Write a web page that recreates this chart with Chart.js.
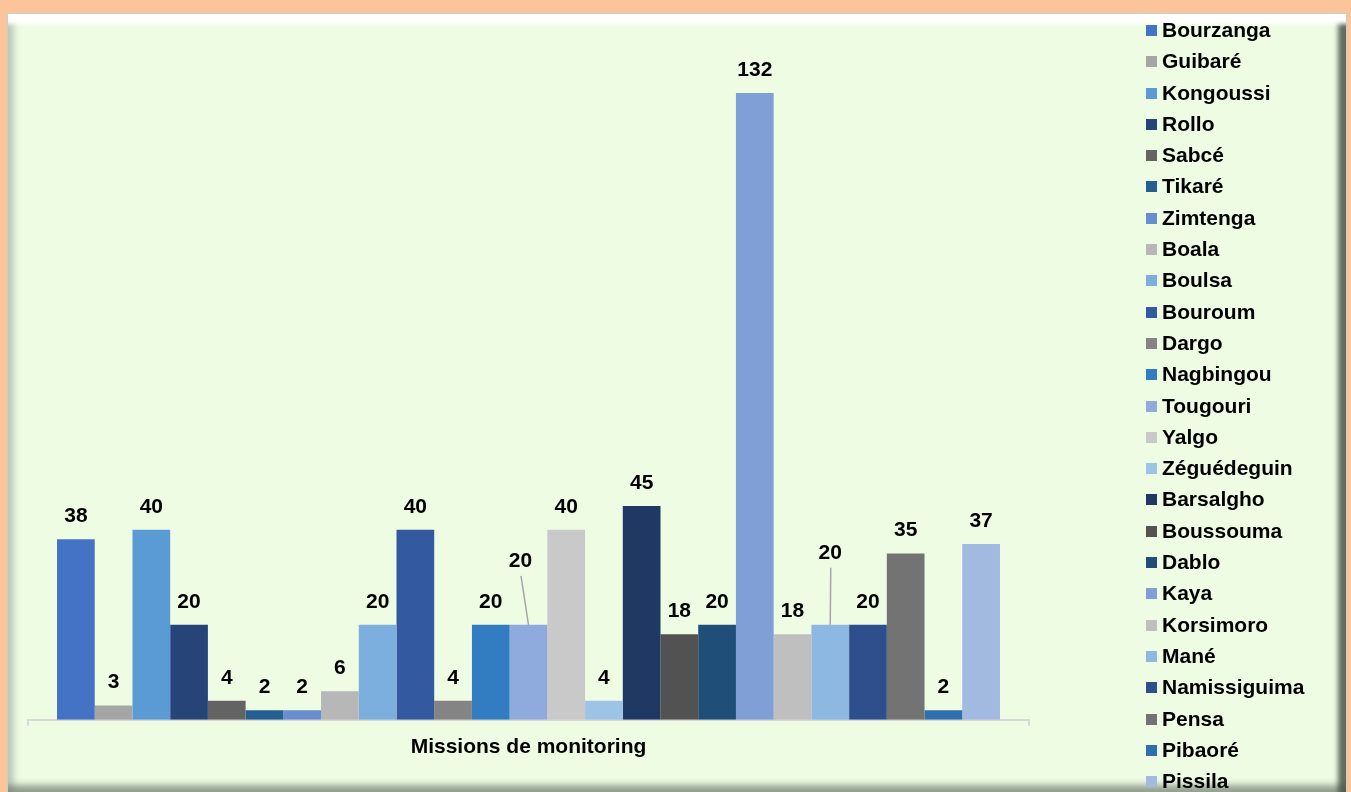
<!DOCTYPE html>
<html lang="fr">
<head>
<meta charset="utf-8">
<title>Missions de monitoring</title>
<script src="https://cdn.jsdelivr.net/npm/chart.js@4/dist/chart.umd.min.js"></script>
<style>
    html, body {
        margin: 0;
        padding: 0;
        width: 1351px;
        height: 792px;
        overflow: hidden;
        background: #fcc49b;
        font-family: "Liberation Sans", Arial, sans-serif;
    }
    .frame {
        position: absolute;
        left: 7px;
        top: 13px;
        width: 1338px;
        height: 779px;
        background: #effce4;
        border: 1px solid #c9d0c6;
        box-shadow:
            inset 0 15px 4px -5px #ffffff,
            inset -13px 0 5px -5px rgba(70, 85, 72, 0.85),
            inset 0 -13px 6px -5px rgba(110, 122, 110, 0.7),
            inset 11px 0 6px -5px rgba(150, 162, 150, 0.55);
    }
    #chart {
        position: absolute;
        left: 0;
        top: 0;
    }
    #legend {
        position: absolute;
        left: 1146px;
        top: 14px;
        margin: 0;
        padding: 0;
        list-style: none;
    }
    #legend li {
        height: 31.3px;
        line-height: 31.3px;
        font-weight: bold;
        font-size: 21px;
        color: #000;
        white-space: nowrap;
    }
    #legend li span {
        display: inline-block;
        width: 11px;
        height: 11px;
        margin-right: 5px;
        vertical-align: 1px;
    }
</style>
</head>
<body>
<div class="frame"></div>
<canvas id="chart" width="1351" height="792"></canvas>
<ul id="legend"></ul>

<script>
    // Communes and their number of monitoring missions
    const category = ['Missions de monitoring'];
    const communes = [
        'Bourzanga', 'Guibaré', 'Kongoussi', 'Rollo', 'Sabcé', 'Tikaré', 'Zimtenga',
        'Boala', 'Boulsa', 'Bouroum', 'Dargo', 'Nagbingou', 'Tougouri', 'Yalgo',
        'Zéguédeguin', 'Barsalgho', 'Boussouma', 'Dablo', 'Kaya', 'Korsimoro',
        'Mané', 'Namissiguima', 'Pensa', 'Pibaoré', 'Pissila'
    ];
    const missions = [38, 3, 40, 20, 4, 2, 2, 6, 20, 40, 4, 20, 20, 40, 4, 45, 18, 20, 132, 18, 20, 20, 35, 2, 37];
    const colors = [
        '#4472c4', '#a5a5a5', '#5b9bd5', '#264478', '#636363', '#255e91', '#698ed0',
        '#b7b7b7', '#7cafdd', '#335aa1', '#848484', '#327dc2', '#8faadc', '#c9c9c9',
        '#9dc3e6', '#203864', '#525252', '#1f4e79', '#7f9fd6', '#bfbfbf',
        '#8cb8e2', '#2e4e8c', '#737373', '#2e6fac', '#a2b9e0'
    ];

    const labelFont = 'bold 21px "Liberation Sans", Arial, sans-serif';

    // labels pulled away from their bar, joined back with a leader line
    const movedLabels = {
        'Tougouri': { dx: -8, dy: -41 },
        'Mané': { dx: 0, dy: -49 }
    };

    const valueLabels = {
        id: 'valueLabels',
        afterDatasetsDraw(chart) {
            const ctx = chart.ctx;
            ctx.save();
            ctx.font = labelFont;
            ctx.fillStyle = '#000';
            ctx.textAlign = 'center';
            ctx.textBaseline = 'middle';
            chart.data.datasets.forEach((ds, i) => {
                const bar = chart.getDatasetMeta(i).data[0];
                if (!bar) return;
                const moved = movedLabels[ds.label];
                let x = bar.x;
                let y = bar.y - 23;
                if (moved) {
                    x += moved.dx;
                    y += moved.dy;
                    ctx.strokeStyle = '#a6a6a6';
                    ctx.lineWidth = 1.5;
                    ctx.beginPath();
                    ctx.moveTo(x + 0.5, y + 15);
                    ctx.lineTo(bar.x, bar.y);
                    ctx.stroke();
                }
                ctx.fillText(String(ds.data[0]), x, y);
            });
            ctx.restore();
        }
    };

    const chart = new Chart(document.getElementById('chart').getContext('2d'), {
        type: 'bar',
        data: {
            labels: category,
            datasets: communes.map((name, i) => ({
                label: name,
                data: [missions[i]],
                backgroundColor: colors[i],
                borderWidth: 0
            }))
        },
        options: {
            responsive: false,
            animation: false,
            layout: {
                padding: { left: 28, right: 322, top: 55, bottom: 23 }
            },
            datasets: {
                bar: {
                    barPercentage: 1,
                    categoryPercentage: 0.942
                }
            },
            plugins: {
                legend: { display: false },
                tooltip: { enabled: false }
            },
            scales: {
                x: {
                    grid: {
                        display: true,
                        drawOnChartArea: false,
                        drawTicks: true,
                        tickLength: 6,
                        color: '#d9d9d9',
                        lineWidth: 2
                    },
                    border: { display: true, color: '#d9d9d9', width: 2 },
                    ticks: {
                        color: '#000',
                        padding: 9,
                        font: { family: '"Liberation Sans", Arial, sans-serif', size: 21, weight: 'bold' }
                    }
                },
                y: {
                    display: false,
                    min: 0,
                    max: 140
                }
            }
        },
        plugins: [valueLabels]
    });

    // side legend, one line per commune
    const legend = document.getElementById('legend');
    chart.data.datasets.forEach(ds => {
        const li = document.createElement('li');
        const box = document.createElement('span');
        box.style.background = ds.backgroundColor;
        li.appendChild(box);
        li.appendChild(document.createTextNode(ds.label));
        legend.appendChild(li);
    });
</script>
</body>
</html>
